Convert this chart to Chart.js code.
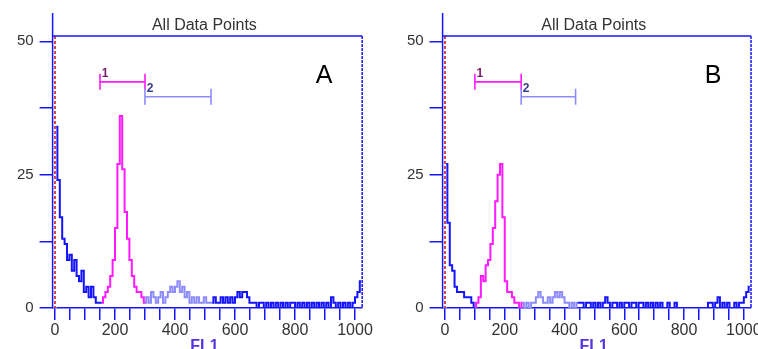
<!DOCTYPE html>
<html>
<head>
<meta charset="utf-8">
<script src="https://cdn.jsdelivr.net/npm/chart.js@4.4.1/dist/chart.umd.min.js"></script>
<style>
  html, body { margin: 0; padding: 0; background: #fff; }
  body { width: 758px; height: 349px; position: relative; overflow: hidden; }
  .panel { position: absolute; top: 0; height: 349px; }
  #panelA { left: 0; width: 380px; }
  #panelB { left: 380px; width: 378px; }
</style>
</head>
<body>
<div class="panel" id="panelA"><canvas id="chartA"></canvas></div>
<div class="panel" id="panelB"><canvas id="chartB"></canvas></div>
<script>
// histogram counts, one value per 8-channel bin of FL1 (0..1023)
const binWidth = 8;
const countsA = [
  34, 24, 17, 13, 12, 9, 10, 7, 9, 6, 5, 7, 3, 4, 2, 4, 2, 1, 1,
  1, 2, 3, 4, 6, 9, 15, 27, 36, 26, 18, 13, 9, 6, 4, 3, 3, 2, 1,
  2, 1, 3, 2, 1, 2, 3, 1, 2, 3, 4, 3, 4, 5, 3, 4, 2, 3, 1, 2, 1, 2, 1, 1, 2, 1, 1,
  1, 2, 1, 1, 2, 1, 2, 1, 2, 1,
  2, 3, 2, 3, 3, 2, 1, 1, 1, 0,
  1, 1, 0, 1, 0, 1, 0, 1, 0, 1,
  0, 1, 0, 1, 1, 0, 1, 0, 1, 0,
  1, 0, 1, 0, 1, 0, 1, 0, 1, 0,
  2, 1, 0, 1, 0, 1, 0, 1, 0, 1,
  2, 3, 5
];
const countsB = [
  27, 16, 8, 7, 4, 3, 3, 3, 2, 2, 2, 1, 0,
  1, 2, 6, 5, 8, 9, 12, 15, 20, 25, 27, 17, 5, 3, 3, 2, 1, 1, 0,
  1, 0, 1, 0, 1, 1, 2, 3, 2, 1, 1, 2, 1, 2, 3, 2, 3, 2, 1, 1, 0, 1, 0,
  1, 1, 1, 0, 1, 1, 0, 1, 0, 1,
  0, 1, 2, 1, 0, 1, 1, 0, 1, 0,
  1, 1, 0, 1, 1, 0, 1, 1, 0, 1,
  0, 1, 0, 1, 0, 1, 0, 0, 1, 0,
  0, 1, 0, 0, 0, 0, 0, 0, 0, 0,
  0, 0, 0, 0, 0, 1, 1, 0, 1, 2,
  0, 1, 0, 1, 0, 0, 1, 0, 1, 1,
  2, 3, 4
];

// marker gates [from, to] in FL1 channels
const gatesA = [[150, 300], [300, 520]];
const gatesB = [[100, 255], [255, 437]];
const gateNames = ['1', '2'];

const xTickValues = [0, 50, 100, 150, 200, 250, 300, 350, 400, 450, 500, 550, 600, 650, 700, 750, 800, 850, 900, 950, 1000];
const xLabelValues = [0, 200, 400, 600, 800, 1000];
const yTickValues = [0, 12.5, 25, 37.5, 50];
const yLabelValues = [0, 25, 50];

const BLUE = '#1414ff';
const MAGENTA = '#ff1aff';
const LIGHT = '#8c8cff';
const FONT = "'Liberation Sans', Arial, sans-serif";

function zoneColor(x, gates) {
  if (x >= gates[0][0] && x < gates[0][1]) return MAGENTA;
  if (x >= gates[1][0] && x < gates[1][1]) return LIGHT;
  return BLUE;
}

const framePlugin = {
  id: 'frame',
  beforeDatasetsDraw(chart) {
    const { ctx, chartArea: a, scales: { x } } = chart;
    const x0 = x.getPixelForValue(0);
    ctx.save();
    ctx.strokeStyle = '#fff';
    ctx.lineWidth = 3;
    ctx.beginPath(); ctx.moveTo(x0, a.top); ctx.lineTo(x0, a.bottom); ctx.stroke();
    ctx.strokeStyle = '#d01818';
    ctx.lineWidth = 1.6;
    ctx.setLineDash([3, 2]);
    ctx.beginPath(); ctx.moveTo(x0, a.top); ctx.lineTo(x0, a.bottom); ctx.stroke();
    ctx.restore();
  },
  afterDraw(chart, args, opts) {
    const { ctx, chartArea: a, scales: { x, y } } = chart;
    ctx.save();
    ctx.strokeStyle = BLUE;
    ctx.lineWidth = 1.5;
    // left axis line, running above the plot
    ctx.beginPath(); ctx.moveTo(a.left, 13); ctx.lineTo(a.left, a.bottom); ctx.stroke();
    // top border
    ctx.beginPath(); ctx.moveTo(a.left, a.top); ctx.lineTo(a.right, a.top); ctx.stroke();
    // right border, dashed
    ctx.setLineDash([3, 1]);
    ctx.beginPath(); ctx.moveTo(a.right, a.top); ctx.lineTo(a.right, a.bottom); ctx.stroke();
    ctx.setLineDash([]);

    // gate markers
    opts.gates.forEach((g, i) => {
      const st = opts.gateStyles[i];
      const x1 = x.getPixelForValue(g[0]);
      const x2 = x.getPixelForValue(g[1]);
      const yy = y.getPixelForValue(st.level);
      ctx.strokeStyle = st.color;
      ctx.lineWidth = 1.6;
      ctx.beginPath();
      ctx.moveTo(x1, yy); ctx.lineTo(x2, yy);
      ctx.moveTo(x1, yy - 8); ctx.lineTo(x1, yy + 8);
      ctx.moveTo(x2, yy - 8); ctx.lineTo(x2, yy + 8);
      ctx.stroke();
      ctx.fillStyle = st.text;
      ctx.font = 'bold 12px ' + FONT;
      ctx.textAlign = 'center';
      ctx.textBaseline = 'alphabetic';
      ctx.fillText(gateNames[i], x1 + 5, yy - 5);
    });

    const cx = (a.left + a.right) / 2 - 3;
    ctx.fillStyle = '#333';
    ctx.font = '16px ' + FONT;
    ctx.textAlign = 'center';
    ctx.textBaseline = 'middle';
    ctx.fillText('All Data Points', cx, 26);

    ctx.fillStyle = '#000';
    ctx.font = '25px ' + FONT;
    ctx.textBaseline = 'alphabetic';
    ctx.fillText(opts.letter, a.right - 38, 83);

    ctx.fillStyle = '#5533dd';
    ctx.font = 'bold 16px ' + FONT;
    ctx.fillText('FL1', cx, 351);
    ctx.restore();
  }
};

function makeChart(id, counts, gates, letter, leftPx, rightPad) {
  const points = counts.map((c, i) => ({ x: i * binWidth + binWidth / 2, y: c }));
  return new Chart(document.getElementById(id), {
    type: 'line',
    data: {
      datasets: [{
        data: points,
        stepped: 'middle',
        borderWidth: 2,
        borderColor: BLUE,
        pointRadius: 0,
        fill: false,
        segment: {
          borderColor: c => zoneColor(c.p0.parsed.x, gates)
        }
      }]
    },
    options: {
      responsive: true,
      maintainAspectRatio: false,
      animation: false,
      events: [],
      devicePixelRatio: 1,
      layout: { padding: { left: 0, right: rightPad, top: 36, bottom: 0 } },
      plugins: {
        legend: { display: false },
        tooltip: { enabled: false },
        frame: {
          gates: gates,
          letter: letter,
          gateStyles: [
            { level: 42.4, color: MAGENTA, text: '#7a1a6a' },
            { level: 39.6, color: LIGHT, text: '#3a3a8a' }
          ]
        }
      },
      scales: {
        x: {
          type: 'linear',
          min: -8,
          max: 1024,
          afterBuildTicks: s => { s.ticks = xTickValues.map(v => ({ value: v })); },
          afterFit: s => { s.height = 41; s.paddingLeft = 0; s.paddingRight = 0; },
          grid: { drawOnChartArea: false, drawTicks: true, tickLength: 12, color: BLUE, lineWidth: 1.5 },
          border: { display: true, color: BLUE, width: 1.5 },
          ticks: {
            autoSkip: false,
            maxRotation: 0,
            minRotation: 0,
            padding: 1,
            color: '#333',
            font: { family: FONT, size: 16 },
            callback: v => xLabelValues.includes(v) ? String(v) : ''
          }
        },
        y: {
          min: 0,
          max: 51,
          afterBuildTicks: s => { s.ticks = yTickValues.map(v => ({ value: v })); },
          afterFit: s => { s.width = leftPx; s.paddingTop = 0; s.paddingBottom = 0; },
          grid: { drawOnChartArea: false, drawTicks: true, tickLength: 13, color: BLUE, lineWidth: 1.5 },
          border: { display: false },
          ticks: {
            padding: 6,
            color: '#333',
            font: { family: FONT, size: 15 },
            callback: v => yLabelValues.includes(v) ? String(v) : ''
          }
        }
      }
    },
    plugins: [framePlugin]
  });
}

makeChart('chartA', countsA, gatesA, 'A', 52.6, 17.8);
makeChart('chartB', countsB, gatesB, 'B', 62.6, 7);
</script>
</body>
</html>
